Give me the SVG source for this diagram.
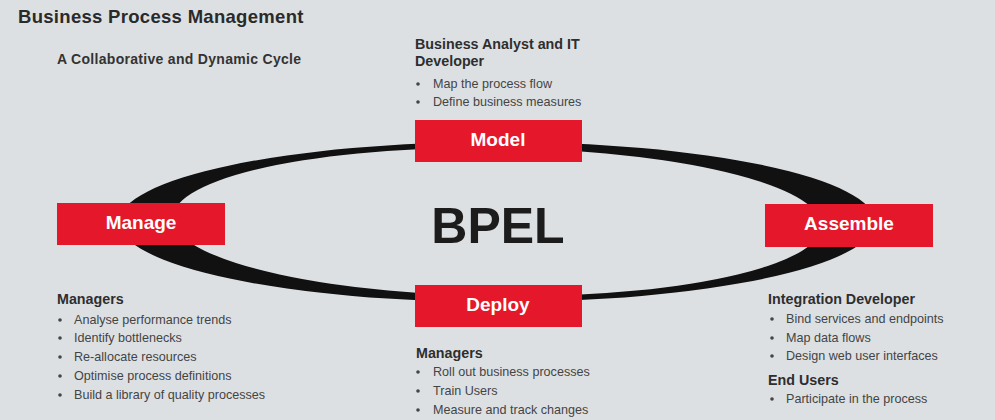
<svg xmlns="http://www.w3.org/2000/svg" width="995" height="420" viewBox="0 0 995 420">
  <style>
    .title { font-family: "Liberation Sans", Arial, sans-serif; font-weight: bold; font-size: 18.5px; letter-spacing: 0.3px; fill: #2a2a2a; }
    .sub { font-family: "Liberation Sans", Arial, sans-serif; font-weight: bold; font-size: 14px; letter-spacing: 0.3px; fill: #333; }
    .head { font-family: "Liberation Sans", Arial, sans-serif; font-weight: bold; font-size: 14.3px; fill: #2e2e2e; }
    .item { font-family: "Liberation Sans", Arial, sans-serif; font-size: 12.6px; fill: #444; }
    .stage rect { fill: #e5182b; }
    .stage text { font-family: "Liberation Sans", Arial, sans-serif; font-weight: bold; font-size: 19px; fill: #fff; text-anchor: middle; }
    .center { font-family: "Liberation Sans", Arial, sans-serif; font-weight: bold; font-size: 50px; fill: #1c1c1c; text-anchor: middle; }
    .dot { fill: #444; }
  </style>

  <rect x="0" y="0" width="995" height="420" fill="#dde0e3"/>

  <text class="title" x="18" y="23">Business Process Management</text>
  <text class="sub" x="57" y="64">A Collaborative and Dynamic Cycle</text>

  <!-- cycle ring: outer ellipse minus slightly rotated inner ellipse -->
  <g id="connectors">
    <path fill="#111" fill-rule="evenodd" d="M119,222 A378,80 0 1,0 875,222 A378,80 0 1,0 119,222 Z M173,222 A324,74 0.7 1,1 821,222 A324,74 0.7 1,1 173,222 Z"/>
  </g>

  <text class="center" x="498" y="243">BPEL</text>

  <g id="model" class="stage">
    <rect x="415" y="120" width="167" height="42"/>
    <text x="498" y="146">Model</text>
  </g>
  <g id="deploy" class="stage">
    <rect x="415" y="285" width="167" height="42"/>
    <text x="498" y="311">Deploy</text>
  </g>
  <g id="manage" class="stage">
    <rect x="57" y="203" width="168" height="42"/>
    <text x="141" y="229">Manage</text>
  </g>
  <g id="assemble" class="stage">
    <rect x="765" y="204" width="168" height="43"/>
    <text x="849" y="230">Assemble</text>
  </g>

  <!-- model roles -->
  <g id="model-notes">
    <text class="head" x="415" y="49">Business Analyst and IT</text>
    <text class="head" x="415" y="66">Developer</text>
    <circle class="dot" cx="418" cy="84" r="1.8"/>
    <text class="item" x="433" y="88">Map the process flow</text>
    <circle class="dot" cx="418" cy="102" r="1.8"/>
    <text class="item" x="433" y="106">Define business measures</text>
  </g>

  <!-- manage roles -->
  <g id="manage-notes">
    <text class="head" x="57" y="304">Managers</text>
    <circle class="dot" cx="60" cy="320" r="1.8"/>
    <text class="item" x="74" y="324">Analyse performance trends</text>
    <circle class="dot" cx="60" cy="338" r="1.8"/>
    <text class="item" x="74" y="342">Identify bottlenecks</text>
    <circle class="dot" cx="60" cy="357" r="1.8"/>
    <text class="item" x="74" y="361">Re-allocate resources</text>
    <circle class="dot" cx="60" cy="376" r="1.8"/>
    <text class="item" x="74" y="380">Optimise process definitions</text>
    <circle class="dot" cx="60" cy="395" r="1.8"/>
    <text class="item" x="74" y="399">Build a library of quality processes</text>
  </g>

  <!-- deploy roles -->
  <g id="deploy-notes">
    <text class="head" x="416" y="358">Managers</text>
    <circle class="dot" cx="418" cy="372" r="1.8"/>
    <text class="item" x="433" y="376">Roll out business processes</text>
    <circle class="dot" cx="418" cy="391" r="1.8"/>
    <text class="item" x="433" y="395">Train Users</text>
    <circle class="dot" cx="418" cy="410" r="1.8"/>
    <text class="item" x="433" y="414">Measure and track changes</text>
  </g>

  <!-- assemble roles -->
  <g id="assemble-notes">
    <text class="head" x="768" y="304">Integration Developer</text>
    <circle class="dot" cx="772" cy="319" r="1.8"/>
    <text class="item" x="786" y="323">Bind services and endpoints</text>
    <circle class="dot" cx="772" cy="338" r="1.8"/>
    <text class="item" x="786" y="342">Map data flows</text>
    <circle class="dot" cx="772" cy="356" r="1.8"/>
    <text class="item" x="786" y="360">Design web user interfaces</text>
    <text class="head" x="768" y="385">End Users</text>
    <circle class="dot" cx="772" cy="399" r="1.8"/>
    <text class="item" x="786" y="403">Participate in the process</text>
  </g>
</svg>
